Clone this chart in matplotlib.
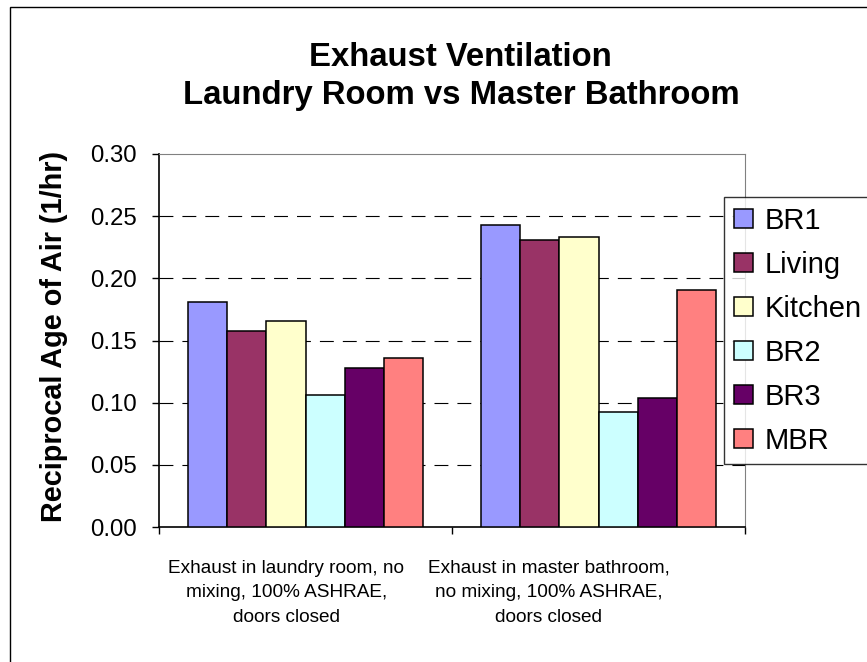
import numpy as np
import matplotlib
matplotlib.use("Agg")
import matplotlib.pyplot as plt
import matplotlib.transforms as mtransforms
from matplotlib.patches import Rectangle

plt.rcParams['font.family'] = ['Liberation Sans', 'DejaVu Sans']
plt.rcParams['lines.scale_dashes'] = False

# data
categories = ["Exhaust in laundry room, no\nmixing, 100% ASHRAE,\ndoors closed",
              "Exhaust in master bathroom,\nno mixing, 100% ASHRAE,\ndoors closed"]
rooms = ["BR1", "Living", "Kitchen", "BR2", "BR3", "MBR"]
colors = ["#9999FF", "#993366", "#FFFFCC", "#CCFFFF", "#660066", "#FF8080"]
values = {
    "BR1":     [0.181, 0.243],
    "Living":  [0.158, 0.231],
    "Kitchen": [0.166, 0.233],
    "BR2":     [0.106, 0.0925],
    "BR3":     [0.128, 0.104],
    "MBR":     [0.136, 0.191],
}
yticks = [0.00, 0.05, 0.10, 0.15, 0.20, 0.25, 0.30]

W, H = 867, 662
fig = plt.figure(figsize=(W/100, H/100), dpi=100)
ax = fig.add_axes([159/W, 1-527/H, (745-159)/W, (527-154)/H])

# outer chart border (right/bottom fall outside the image)
fig.patches.append(Rectangle((10/W, -0.1), 1.2, 1.1-7/H, transform=fig.transFigure,
                             fill=False, edgecolor='black', linewidth=1.0))

x = np.arange(len(categories))
bw = 0.8/len(rooms)
for i, r in enumerate(rooms):
    ax.bar(x - 0.4 + bw*(i+0.5), values[r], width=bw, color=colors[i],
           edgecolor='black', linewidth=1.1, label=r, zorder=3)

ax.set_xlim(-0.5, 1.5)
ax.set_ylim(0, 0.30)
ax.set_yticks(yticks)
ax.set_yticklabels([f"{v:.2f}" for v in yticks], fontsize=17.3)
for v in yticks[1:-1]:
    ax.axhline(v, color='black', linewidth=0.8, dashes=(10, 6.5), zorder=1)

ax.spines['top'].set_color('#808080')
ax.spines['right'].set_color('#808080')
for s in ['left', 'bottom']:
    ax.spines[s].set_color('black')
    ax.spines[s].set_linewidth(1.2)

ax.tick_params(axis='y', direction='out', length=5, width=1, pad=10.8)
ax.set_xticks([-0.5, 0.5, 1.5], minor=True)
ax.tick_params(axis='x', which='minor', direction='out', length=5, width=1)
ax.set_xticks(x)
ax.set_xticklabels(categories, fontsize=13.7, linespacing=1.58)
ax.tick_params(axis='x', which='major', length=0, pad=23.5)
for lab, dx in zip(ax.get_xticklabels(), [-19, -50]):
    lab.set_transform(lab.get_transform() +
                      mtransforms.ScaledTranslation(dx/100, 0, fig.dpi_scale_trans))

ax.set_ylabel("Reciprocal Age of Air (1/hr)", fontsize=20.8, fontweight='bold')
ax.yaxis.set_label_coords(68/W, 1-336/H, transform=fig.transFigure)

fig.text(460/W, 1-66/H, "Exhaust Ventilation", ha='center', va='baseline',
         fontsize=23.7, fontweight='bold')
fig.text(461/W, 1-104/H, "Laundry Room vs Master Bathroom", ha='center', va='baseline',
         fontsize=23.7, fontweight='bold')

leg = ax.legend(loc='upper left', bbox_to_anchor=(724/W, 1-197/H),
                bbox_transform=fig.transFigure, fontsize=21, frameon=True,
                fancybox=False, edgecolor='black', handlelength=0.66,
                handleheight=0.66, handletextpad=0.4, labelspacing=0.55,
                borderaxespad=0, borderpad=0.33)
leg.get_frame().set_linewidth(1.0)

fig.savefig("out.png", dpi=100)
